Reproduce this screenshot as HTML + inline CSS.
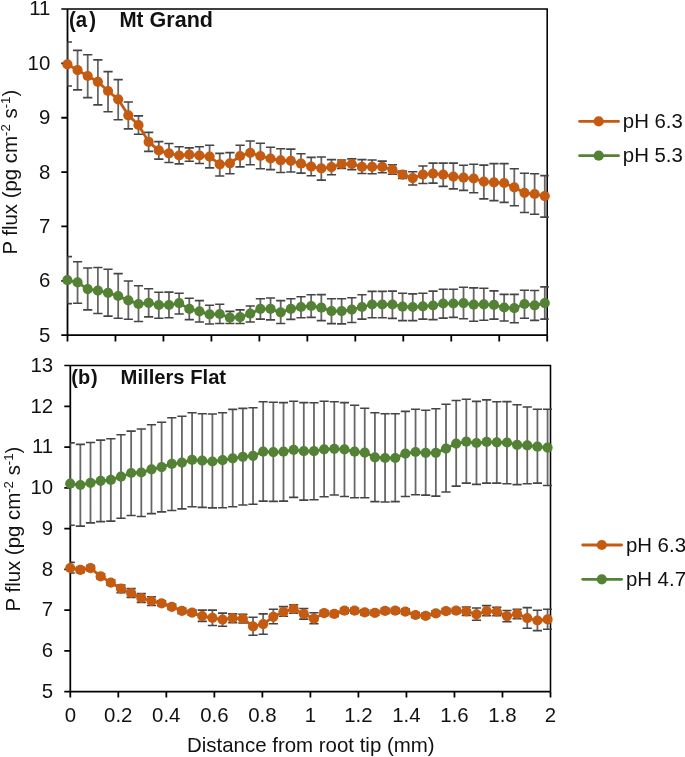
<!DOCTYPE html><html><head><meta charset="utf-8"><style>html,body{margin:0;padding:0;background:#fff;}svg{display:block;will-change:transform;}</style></head><body>
<svg width="685" height="757" viewBox="0 0 685 757">
<rect width="685" height="757" fill="#fff"/>
<defs>
<clipPath id="cA"><rect x="67.5" y="9.0" width="481.30" height="326.20"/></clipPath>
<clipPath id="cB"><rect x="70.3" y="365.55" width="481.80" height="326.00"/></clipPath>
</defs>
<path d="M61.3 9.0H547.2V335.2" stroke="#000" stroke-width="1.55" fill="none"/>
<path d="M67.5 9.0V341.4M61.3 335.2H547.2M61.3 335.20H67.5M61.3 280.83H67.5M61.3 226.47H67.5M61.3 172.10H67.5M61.3 117.73H67.5M61.3 63.37H67.5M67.50 335.2V341.4M115.47 335.2V341.4M163.44 335.2V341.4M211.41 335.2V341.4M259.38 335.2V341.4M307.35 335.2V341.4M355.32 335.2V341.4M403.29 335.2V341.4M451.26 335.2V341.4M499.23 335.2V341.4M547.20 335.2V341.4" stroke="#000" stroke-width="1.8" fill="none"/>
<g font-family='"Liberation Sans", sans-serif' font-size="20.4" fill="#111" text-anchor="end">
<text x="50.3" y="341.6">5</text>
<text x="50.3" y="287.2">6</text>
<text x="50.3" y="232.9">7</text>
<text x="50.3" y="178.5">8</text>
<text x="50.3" y="124.1">9</text>
<text x="50.3" y="69.8">10</text>
<text x="50.3" y="15.4">11</text>
</g>
<g clip-path="url(#cA)" fill="none"><path d="M67.40 42.0V86.0M77.56 50.4V89.9M87.71 54.8V97.6M97.87 59.9V104.9M108.03 71.6V111.8M118.19 79.6V119.8M128.34 102.0V128.9M138.50 115.9V134.3M148.66 132.4V151.4M158.81 141.6V159.1M168.97 143.5V162.5M179.13 146.7V163.9M189.28 147.9V161.3M199.44 146.7V163.5M209.60 145.3V167.9M219.75 153.4V176.0M229.91 152.6V173.8M240.07 145.3V166.9M250.23 141.0V164.7M260.38 143.3V168.7M270.54 147.2V169.6M280.70 148.7V172.5M290.85 149.1V172.0M301.01 153.8V173.1M311.17 157.4V175.7M321.33 157.0V180.1M331.48 159.6V174.7M341.64 160.0V168.4M351.80 158.9V169.6M361.95 159.6V173.5M372.11 160.0V173.8M382.27 161.1V172.8M392.42 164.7V174.2M402.58 171.0V178.4M412.74 171.8V185.0M422.89 166.0V183.5M433.05 163.1V183.1M443.21 163.1V186.4M453.37 163.1V188.9M463.52 165.3V190.4M473.68 164.3V192.7M483.84 165.1V198.9M493.99 163.6V200.6M504.15 163.6V202.4M514.31 168.8V205.7M524.47 173.3V212.5M534.62 173.7V214.2M544.78 175.6V217.1" stroke="#666" stroke-width="1.8"/><path d="M62.80 42.0H72.00M62.80 86.0H72.00M72.96 50.4H82.16M72.96 89.9H82.16M83.11 54.8H92.31M83.11 97.6H92.31M93.27 59.9H102.47M93.27 104.9H102.47M103.43 71.6H112.63M103.43 111.8H112.63M113.59 79.6H122.78M113.59 119.8H122.78M123.74 102.0H132.94M123.74 128.9H132.94M133.90 115.9H143.10M133.90 134.3H143.10M144.06 132.4H153.26M144.06 151.4H153.26M154.21 141.6H163.41M154.21 159.1H163.41M164.37 143.5H173.57M164.37 162.5H173.57M174.53 146.7H183.73M174.53 163.9H183.73M184.68 147.9H193.88M184.68 161.3H193.88M194.84 146.7H204.04M194.84 163.5H204.04M205.00 145.3H214.20M205.00 167.9H214.20M215.16 153.4H224.35M215.16 176.0H224.35M225.31 152.6H234.51M225.31 173.8H234.51M235.47 145.3H244.67M235.47 166.9H244.67M245.63 141.0H254.83M245.63 164.7H254.83M255.78 143.3H264.98M255.78 168.7H264.98M265.94 147.2H275.14M265.94 169.6H275.14M276.10 148.7H285.30M276.10 172.5H285.30M286.25 149.1H295.45M286.25 172.0H295.45M296.41 153.8H305.61M296.41 173.1H305.61M306.57 157.4H315.77M306.57 175.7H315.77M316.73 157.0H325.93M316.73 180.1H325.93M326.88 159.6H336.08M326.88 174.7H336.08M337.04 160.0H346.24M337.04 168.4H346.24M347.20 158.9H356.40M347.20 169.6H356.40M357.35 159.6H366.55M357.35 173.5H366.55M367.51 160.0H376.71M367.51 173.8H376.71M377.67 161.1H386.87M377.67 172.8H386.87M387.82 164.7H397.02M387.82 174.2H397.02M397.98 171.0H407.18M397.98 178.4H407.18M408.14 171.8H417.34M408.14 185.0H417.34M418.29 166.0H427.50M418.29 183.5H427.50M428.45 163.1H437.65M428.45 183.1H437.65M438.61 163.1H447.81M438.61 186.4H447.81M448.77 163.1H457.97M448.77 188.9H457.97M458.92 165.3H468.12M458.92 190.4H468.12M469.08 164.3H478.28M469.08 192.7H478.28M479.24 165.1H488.44M479.24 198.9H488.44M489.39 163.6H498.59M489.39 200.6H498.59M499.55 163.6H508.75M499.55 202.4H508.75M509.71 168.8H518.91M509.71 205.7H518.91M519.87 173.3H529.07M519.87 212.5H529.07M530.02 173.7H539.22M530.02 214.2H539.22M540.18 175.6H549.38M540.18 217.1H549.38" stroke="#444" stroke-width="1.6"/></g>
<polyline points="67.40,64.3 77.56,70.1 87.71,76.0 97.87,81.8 108.03,91.0 118.19,99.3 128.34,115.3 138.50,125.0 148.66,141.9 158.81,150.4 168.97,153.3 179.13,155.5 189.28,154.7 199.44,155.5 209.60,156.6 219.75,164.3 229.91,163.3 240.07,156.0 250.23,152.8 260.38,156.0 270.54,158.5 280.70,160.4 290.85,160.8 301.01,163.7 311.17,166.6 321.33,168.4 331.48,167.2 341.64,164.0 351.80,164.0 361.95,166.9 372.11,166.9 382.27,166.9 392.42,169.6 402.58,174.7 412.74,178.1 422.89,174.7 433.05,173.7 443.21,174.7 453.37,176.6 463.52,177.7 473.68,178.5 483.84,181.6 493.99,182.4 504.15,183.0 514.31,187.4 524.47,192.8 534.62,194.0 544.78,196.1" stroke="#C55A11" stroke-width="2.8" fill="none" stroke-linejoin="round"/>
<g fill="#C55A11"><circle cx="67.40" cy="64.3" r="5.1"/><circle cx="77.56" cy="70.1" r="5.1"/><circle cx="87.71" cy="76.0" r="5.1"/><circle cx="97.87" cy="81.8" r="5.1"/><circle cx="108.03" cy="91.0" r="5.1"/><circle cx="118.19" cy="99.3" r="5.1"/><circle cx="128.34" cy="115.3" r="5.1"/><circle cx="138.50" cy="125.0" r="5.1"/><circle cx="148.66" cy="141.9" r="5.1"/><circle cx="158.81" cy="150.4" r="5.1"/><circle cx="168.97" cy="153.3" r="5.1"/><circle cx="179.13" cy="155.5" r="5.1"/><circle cx="189.28" cy="154.7" r="5.1"/><circle cx="199.44" cy="155.5" r="5.1"/><circle cx="209.60" cy="156.6" r="5.1"/><circle cx="219.75" cy="164.3" r="5.1"/><circle cx="229.91" cy="163.3" r="5.1"/><circle cx="240.07" cy="156.0" r="5.1"/><circle cx="250.23" cy="152.8" r="5.1"/><circle cx="260.38" cy="156.0" r="5.1"/><circle cx="270.54" cy="158.5" r="5.1"/><circle cx="280.70" cy="160.4" r="5.1"/><circle cx="290.85" cy="160.8" r="5.1"/><circle cx="301.01" cy="163.7" r="5.1"/><circle cx="311.17" cy="166.6" r="5.1"/><circle cx="321.33" cy="168.4" r="5.1"/><circle cx="331.48" cy="167.2" r="5.1"/><circle cx="341.64" cy="164.0" r="5.1"/><circle cx="351.80" cy="164.0" r="5.1"/><circle cx="361.95" cy="166.9" r="5.1"/><circle cx="372.11" cy="166.9" r="5.1"/><circle cx="382.27" cy="166.9" r="5.1"/><circle cx="392.42" cy="169.6" r="5.1"/><circle cx="402.58" cy="174.7" r="5.1"/><circle cx="412.74" cy="178.1" r="5.1"/><circle cx="422.89" cy="174.7" r="5.1"/><circle cx="433.05" cy="173.7" r="5.1"/><circle cx="443.21" cy="174.7" r="5.1"/><circle cx="453.37" cy="176.6" r="5.1"/><circle cx="463.52" cy="177.7" r="5.1"/><circle cx="473.68" cy="178.5" r="5.1"/><circle cx="483.84" cy="181.6" r="5.1"/><circle cx="493.99" cy="182.4" r="5.1"/><circle cx="504.15" cy="183.0" r="5.1"/><circle cx="514.31" cy="187.4" r="5.1"/><circle cx="524.47" cy="192.8" r="5.1"/><circle cx="534.62" cy="194.0" r="5.1"/><circle cx="544.78" cy="196.1" r="5.1"/></g>
<g clip-path="url(#cA)" fill="none"><path d="M67.40 256.6V303.6M77.56 261.7V303.3M87.71 268.0V309.9M97.87 267.5V313.5M108.03 269.3V316.1M118.19 273.6V318.2M128.34 281.0V319.3M138.50 285.8V321.5M148.66 288.7V316.9M158.81 292.2V318.2M168.97 292.1V317.7M179.13 293.3V314.0M189.28 298.2V319.6M199.44 300.6V322.0M209.60 305.3V324.0M219.75 304.2V323.5M229.91 311.4V323.5M240.07 309.9V323.5M250.23 306.0V322.0M260.38 298.7V319.1M270.54 298.0V319.9M280.70 300.6V323.5M290.85 298.7V319.4M301.01 296.8V317.7M311.17 294.7V317.4M321.33 294.6V320.6M331.48 298.7V323.6M341.64 298.7V323.9M351.80 297.7V322.5M361.95 294.7V319.1M372.11 291.4V317.7M382.27 291.4V317.7M392.42 291.1V318.4M402.58 293.3V320.6M412.74 293.9V320.6M422.89 293.3V319.1M433.05 291.1V319.6M443.21 289.2V318.1M453.37 289.2V317.4M463.52 287.3V318.7M473.68 287.9V321.2M483.84 288.3V320.3M493.99 290.9V319.1M504.15 294.4V321.0M514.31 294.4V322.8M524.47 290.2V318.2M534.62 290.5V320.4M544.78 286.9V319.1" stroke="#666" stroke-width="1.8"/><path d="M62.80 256.6H72.00M62.80 303.6H72.00M72.96 261.7H82.16M72.96 303.3H82.16M83.11 268.0H92.31M83.11 309.9H92.31M93.27 267.5H102.47M93.27 313.5H102.47M103.43 269.3H112.63M103.43 316.1H112.63M113.59 273.6H122.78M113.59 318.2H122.78M123.74 281.0H132.94M123.74 319.3H132.94M133.90 285.8H143.10M133.90 321.5H143.10M144.06 288.7H153.26M144.06 316.9H153.26M154.21 292.2H163.41M154.21 318.2H163.41M164.37 292.1H173.57M164.37 317.7H173.57M174.53 293.3H183.73M174.53 314.0H183.73M184.68 298.2H193.88M184.68 319.6H193.88M194.84 300.6H204.04M194.84 322.0H204.04M205.00 305.3H214.20M205.00 324.0H214.20M215.16 304.2H224.35M215.16 323.5H224.35M225.31 311.4H234.51M225.31 323.5H234.51M235.47 309.9H244.67M235.47 323.5H244.67M245.63 306.0H254.83M245.63 322.0H254.83M255.78 298.7H264.98M255.78 319.1H264.98M265.94 298.0H275.14M265.94 319.9H275.14M276.10 300.6H285.30M276.10 323.5H285.30M286.25 298.7H295.45M286.25 319.4H295.45M296.41 296.8H305.61M296.41 317.7H305.61M306.57 294.7H315.77M306.57 317.4H315.77M316.73 294.6H325.93M316.73 320.6H325.93M326.88 298.7H336.08M326.88 323.6H336.08M337.04 298.7H346.24M337.04 323.9H346.24M347.20 297.7H356.40M347.20 322.5H356.40M357.35 294.7H366.55M357.35 319.1H366.55M367.51 291.4H376.71M367.51 317.7H376.71M377.67 291.4H386.87M377.67 317.7H386.87M387.82 291.1H397.02M387.82 318.4H397.02M397.98 293.3H407.18M397.98 320.6H407.18M408.14 293.9H417.34M408.14 320.6H417.34M418.29 293.3H427.50M418.29 319.1H427.50M428.45 291.1H437.65M428.45 319.6H437.65M438.61 289.2H447.81M438.61 318.1H447.81M448.77 289.2H457.97M448.77 317.4H457.97M458.92 287.3H468.12M458.92 318.7H468.12M469.08 287.9H478.28M469.08 321.2H478.28M479.24 288.3H488.44M479.24 320.3H488.44M489.39 290.9H498.59M489.39 319.1H498.59M499.55 294.4H508.75M499.55 321.0H508.75M509.71 294.4H518.91M509.71 322.8H518.91M519.87 290.2H529.07M519.87 318.2H529.07M530.02 290.5H539.22M530.02 320.4H539.22M540.18 286.9H549.38M540.18 319.1H549.38" stroke="#444" stroke-width="1.6"/></g>
<polyline points="67.40,280.2 77.56,282.4 87.71,289.1 97.87,290.6 108.03,292.8 118.19,296.0 128.34,300.4 138.50,304.0 148.66,302.8 158.81,305.0 168.97,305.0 179.13,303.1 189.28,308.9 199.44,311.4 209.60,314.3 219.75,314.0 229.91,317.7 240.07,317.2 250.23,313.7 260.38,308.9 270.54,308.9 280.70,312.3 290.85,308.9 301.01,307.0 311.17,306.0 321.33,307.7 331.48,311.1 341.64,311.1 351.80,309.6 361.95,307.0 372.11,304.5 382.27,304.5 392.42,304.5 402.58,306.7 412.74,307.0 422.89,306.4 433.05,305.5 443.21,303.5 453.37,303.5 463.52,303.1 473.68,304.7 483.84,304.4 493.99,304.9 504.15,307.5 514.31,308.2 524.47,304.0 534.62,305.3 544.78,303.1" stroke="#548235" stroke-width="2.8" fill="none" stroke-linejoin="round"/>
<g fill="#548235"><circle cx="67.40" cy="280.2" r="5.1"/><circle cx="77.56" cy="282.4" r="5.1"/><circle cx="87.71" cy="289.1" r="5.1"/><circle cx="97.87" cy="290.6" r="5.1"/><circle cx="108.03" cy="292.8" r="5.1"/><circle cx="118.19" cy="296.0" r="5.1"/><circle cx="128.34" cy="300.4" r="5.1"/><circle cx="138.50" cy="304.0" r="5.1"/><circle cx="148.66" cy="302.8" r="5.1"/><circle cx="158.81" cy="305.0" r="5.1"/><circle cx="168.97" cy="305.0" r="5.1"/><circle cx="179.13" cy="303.1" r="5.1"/><circle cx="189.28" cy="308.9" r="5.1"/><circle cx="199.44" cy="311.4" r="5.1"/><circle cx="209.60" cy="314.3" r="5.1"/><circle cx="219.75" cy="314.0" r="5.1"/><circle cx="229.91" cy="317.7" r="5.1"/><circle cx="240.07" cy="317.2" r="5.1"/><circle cx="250.23" cy="313.7" r="5.1"/><circle cx="260.38" cy="308.9" r="5.1"/><circle cx="270.54" cy="308.9" r="5.1"/><circle cx="280.70" cy="312.3" r="5.1"/><circle cx="290.85" cy="308.9" r="5.1"/><circle cx="301.01" cy="307.0" r="5.1"/><circle cx="311.17" cy="306.0" r="5.1"/><circle cx="321.33" cy="307.7" r="5.1"/><circle cx="331.48" cy="311.1" r="5.1"/><circle cx="341.64" cy="311.1" r="5.1"/><circle cx="351.80" cy="309.6" r="5.1"/><circle cx="361.95" cy="307.0" r="5.1"/><circle cx="372.11" cy="304.5" r="5.1"/><circle cx="382.27" cy="304.5" r="5.1"/><circle cx="392.42" cy="304.5" r="5.1"/><circle cx="402.58" cy="306.7" r="5.1"/><circle cx="412.74" cy="307.0" r="5.1"/><circle cx="422.89" cy="306.4" r="5.1"/><circle cx="433.05" cy="305.5" r="5.1"/><circle cx="443.21" cy="303.5" r="5.1"/><circle cx="453.37" cy="303.5" r="5.1"/><circle cx="463.52" cy="303.1" r="5.1"/><circle cx="473.68" cy="304.7" r="5.1"/><circle cx="483.84" cy="304.4" r="5.1"/><circle cx="493.99" cy="304.9" r="5.1"/><circle cx="504.15" cy="307.5" r="5.1"/><circle cx="514.31" cy="308.2" r="5.1"/><circle cx="524.47" cy="304.0" r="5.1"/><circle cx="534.62" cy="305.3" r="5.1"/><circle cx="544.78" cy="303.1" r="5.1"/></g>
<path d="M64.3 365.55H550.5V691.55" stroke="#000" stroke-width="1.55" fill="none"/>
<path d="M70.3 365.55V697.55M64.3 691.55H550.5M64.3 691.55H70.3M64.3 650.80H70.3M64.3 610.05H70.3M64.3 569.30H70.3M64.3 528.55H70.3M64.3 487.80H70.3M64.3 447.05H70.3M64.3 406.30H70.3M70.30 691.55V697.55M118.32 691.55V697.55M166.34 691.55V697.55M214.36 691.55V697.55M262.38 691.55V697.55M310.40 691.55V697.55M358.42 691.55V697.55M406.44 691.55V697.55M454.46 691.55V697.55M502.48 691.55V697.55M550.50 691.55V697.55" stroke="#000" stroke-width="1.75" fill="none"/>
<g font-family='"Liberation Sans", sans-serif' font-size="20.4" fill="#111" text-anchor="end">
<text x="53.1" y="697.9">5</text>
<text x="53.1" y="657.2">6</text>
<text x="53.1" y="616.4">7</text>
<text x="53.1" y="575.7">8</text>
<text x="53.1" y="534.9">9</text>
<text x="53.1" y="494.2">10</text>
<text x="53.1" y="453.4">11</text>
<text x="53.1" y="412.7">12</text>
<text x="53.1" y="371.9">13</text>
</g>
<g font-family='"Liberation Sans", sans-serif' font-size="20.4" fill="#111" text-anchor="middle">
<text x="70.3" y="721.9">0</text>
<text x="118.3" y="721.9">0.2</text>
<text x="166.3" y="721.9">0.4</text>
<text x="214.4" y="721.9">0.6</text>
<text x="262.4" y="721.9">0.8</text>
<text x="310.4" y="721.9">1</text>
<text x="358.4" y="721.9">1.2</text>
<text x="406.4" y="721.9">1.4</text>
<text x="454.5" y="721.9">1.6</text>
<text x="502.5" y="721.9">1.8</text>
<text x="550.5" y="721.9">2</text>
</g>
<g clip-path="url(#cB)" fill="none"><path d="M70.20 442.9V525.3M80.36 444.4V526.1M90.51 442.5V522.9M100.67 440.1V521.6M110.83 438.8V521.1M120.98 434.8V518.3M131.14 431.1V515.5M141.30 429.0V516.5M151.46 424.7V513.6M161.61 422.2V511.9M171.77 417.7V510.5M181.93 416.2V508.9M192.08 412.7V506.8M202.24 413.7V507.4M212.40 414.0V507.9M222.56 412.7V507.7M232.71 409.4V506.8M242.87 408.4V505.0M253.03 407.7V504.2M263.18 401.8V501.1M273.34 402.2V501.4M283.50 402.6V501.1M293.65 401.3V497.4M303.81 402.6V500.1M313.97 402.7V499.8M324.12 401.3V496.8M334.28 401.8V495.0M344.44 402.6V496.5M354.60 405.3V497.7M364.75 408.3V497.7M374.91 412.7V501.6M385.07 413.8V502.0M395.22 413.8V501.6M405.38 411.4V496.5M415.54 409.3V494.7M425.69 410.3V495.1M435.85 408.8V496.1M446.01 404.2V492.0M456.17 400.5V486.1M466.32 399.2V483.1M476.48 401.4V484.4M486.64 399.9V483.1M496.79 401.8V483.1M506.95 401.6V483.7M517.11 404.8V484.6M527.26 407.0V483.7M537.42 409.2V483.1M547.58 409.2V485.5" stroke="#666" stroke-width="1.8"/><path d="M65.60 442.9H74.80M65.60 525.3H74.80M75.76 444.4H84.96M75.76 526.1H84.96M85.91 442.5H95.11M85.91 522.9H95.11M96.07 440.1H105.27M96.07 521.6H105.27M106.23 438.8H115.43M106.23 521.1H115.43M116.39 434.8H125.58M116.39 518.3H125.58M126.54 431.1H135.74M126.54 515.5H135.74M136.70 429.0H145.90M136.70 516.5H145.90M146.86 424.7H156.06M146.86 513.6H156.06M157.01 422.2H166.21M157.01 511.9H166.21M167.17 417.7H176.37M167.17 510.5H176.37M177.33 416.2H186.53M177.33 508.9H186.53M187.48 412.7H196.68M187.48 506.8H196.68M197.64 413.7H206.84M197.64 507.4H206.84M207.80 414.0H217.00M207.80 507.9H217.00M217.96 412.7H227.16M217.96 507.7H227.16M228.11 409.4H237.31M228.11 506.8H237.31M238.27 408.4H247.47M238.27 505.0H247.47M248.43 407.7H257.63M248.43 504.2H257.63M258.58 401.8H267.78M258.58 501.1H267.78M268.74 402.2H277.94M268.74 501.4H277.94M278.90 402.6H288.10M278.90 501.1H288.10M289.05 401.3H298.25M289.05 497.4H298.25M299.21 402.6H308.41M299.21 500.1H308.41M309.37 402.7H318.57M309.37 499.8H318.57M319.52 401.3H328.73M319.52 496.8H328.73M329.68 401.8H338.88M329.68 495.0H338.88M339.84 402.6H349.04M339.84 496.5H349.04M350.00 405.3H359.20M350.00 497.7H359.20M360.15 408.3H369.35M360.15 497.7H369.35M370.31 412.7H379.51M370.31 501.6H379.51M380.47 413.8H389.67M380.47 502.0H389.67M390.62 413.8H399.82M390.62 501.6H399.82M400.78 411.4H409.98M400.78 496.5H409.98M410.94 409.3H420.14M410.94 494.7H420.14M421.09 410.3H430.30M421.09 495.1H430.30M431.25 408.8H440.45M431.25 496.1H440.45M441.41 404.2H450.61M441.41 492.0H450.61M451.57 400.5H460.77M451.57 486.1H460.77M461.72 399.2H470.92M461.72 483.1H470.92M471.88 401.4H481.08M471.88 484.4H481.08M482.04 399.9H491.24M482.04 483.1H491.24M492.19 401.8H501.39M492.19 483.1H501.39M502.35 401.6H511.55M502.35 483.7H511.55M512.51 404.8H521.71M512.51 484.6H521.71M522.66 407.0H531.87M522.66 483.7H531.87M532.82 409.2H542.02M532.82 483.1H542.02M542.98 409.2H552.18M542.98 485.5H552.18" stroke="#444" stroke-width="1.6"/></g>
<polyline points="70.20,483.7 80.36,485.0 90.51,482.8 100.67,480.8 110.83,479.9 120.98,476.7 131.14,473.0 141.30,472.5 151.46,469.4 161.61,467.1 171.77,463.9 181.93,462.6 192.08,459.9 202.24,460.6 212.40,461.5 222.56,460.2 232.71,458.4 242.87,456.8 253.03,455.8 263.18,451.7 273.34,452.1 283.50,451.7 293.65,449.9 303.81,451.2 313.97,451.2 324.12,449.3 334.28,448.8 344.44,449.3 354.60,451.7 364.75,452.6 374.91,457.3 385.07,458.0 395.22,458.0 405.38,453.6 415.54,452.0 425.69,452.8 435.85,452.8 446.01,448.6 456.17,443.6 466.32,441.7 476.48,443.0 486.64,441.9 496.79,442.3 506.95,442.5 517.11,444.9 527.26,445.4 537.42,446.7 547.58,447.6" stroke="#548235" stroke-width="2.8" fill="none" stroke-linejoin="round"/>
<g fill="#548235"><circle cx="70.20" cy="483.7" r="5.1"/><circle cx="80.36" cy="485.0" r="5.1"/><circle cx="90.51" cy="482.8" r="5.1"/><circle cx="100.67" cy="480.8" r="5.1"/><circle cx="110.83" cy="479.9" r="5.1"/><circle cx="120.98" cy="476.7" r="5.1"/><circle cx="131.14" cy="473.0" r="5.1"/><circle cx="141.30" cy="472.5" r="5.1"/><circle cx="151.46" cy="469.4" r="5.1"/><circle cx="161.61" cy="467.1" r="5.1"/><circle cx="171.77" cy="463.9" r="5.1"/><circle cx="181.93" cy="462.6" r="5.1"/><circle cx="192.08" cy="459.9" r="5.1"/><circle cx="202.24" cy="460.6" r="5.1"/><circle cx="212.40" cy="461.5" r="5.1"/><circle cx="222.56" cy="460.2" r="5.1"/><circle cx="232.71" cy="458.4" r="5.1"/><circle cx="242.87" cy="456.8" r="5.1"/><circle cx="253.03" cy="455.8" r="5.1"/><circle cx="263.18" cy="451.7" r="5.1"/><circle cx="273.34" cy="452.1" r="5.1"/><circle cx="283.50" cy="451.7" r="5.1"/><circle cx="293.65" cy="449.9" r="5.1"/><circle cx="303.81" cy="451.2" r="5.1"/><circle cx="313.97" cy="451.2" r="5.1"/><circle cx="324.12" cy="449.3" r="5.1"/><circle cx="334.28" cy="448.8" r="5.1"/><circle cx="344.44" cy="449.3" r="5.1"/><circle cx="354.60" cy="451.7" r="5.1"/><circle cx="364.75" cy="452.6" r="5.1"/><circle cx="374.91" cy="457.3" r="5.1"/><circle cx="385.07" cy="458.0" r="5.1"/><circle cx="395.22" cy="458.0" r="5.1"/><circle cx="405.38" cy="453.6" r="5.1"/><circle cx="415.54" cy="452.0" r="5.1"/><circle cx="425.69" cy="452.8" r="5.1"/><circle cx="435.85" cy="452.8" r="5.1"/><circle cx="446.01" cy="448.6" r="5.1"/><circle cx="456.17" cy="443.6" r="5.1"/><circle cx="466.32" cy="441.7" r="5.1"/><circle cx="476.48" cy="443.0" r="5.1"/><circle cx="486.64" cy="441.9" r="5.1"/><circle cx="496.79" cy="442.3" r="5.1"/><circle cx="506.95" cy="442.5" r="5.1"/><circle cx="517.11" cy="444.9" r="5.1"/><circle cx="527.26" cy="445.4" r="5.1"/><circle cx="537.42" cy="446.7" r="5.1"/><circle cx="547.58" cy="447.6" r="5.1"/></g>
<g clip-path="url(#cB)" fill="none"><path d="M70.20 562.4V573.0M80.36 567.4V572.4M90.51 565.6V570.6M100.67 573.8V578.8M110.83 580.1V585.1M120.98 585.0V592.7M131.14 588.6V597.4M141.30 593.6V602.4M151.46 596.7V605.5M161.61 600.8V605.8M171.77 604.3V609.3M181.93 608.4V613.4M192.08 610.1V615.1M202.24 610.1V621.4M212.40 610.1V625.5M222.56 613.1V626.2M232.71 613.9V622.6M242.87 614.3V623.0M253.03 617.2V635.2M263.18 613.9V634.3M273.34 609.2V623.8M283.50 606.6V616.2M293.65 604.8V613.3M303.81 608.5V619.1M313.97 612.8V623.8M324.12 610.6V615.6M334.28 611.4V616.4M344.44 608.2V613.2M354.60 608.2V613.2M364.75 609.9V614.9M374.91 610.3V615.3M385.07 608.4V613.4M395.22 608.2V613.2M405.38 609.1V614.1M415.54 612.5V617.5M425.69 613.3V618.3M435.85 610.8V615.8M446.01 608.6V613.6M456.17 608.2V613.2M466.32 607.0V615.5M476.48 608.0V620.3M486.64 605.6V615.7M496.79 607.2V615.7M506.95 610.5V621.8M517.11 609.2V618.8M527.26 607.6V628.2M537.42 610.2V630.6M547.58 609.2V629.3" stroke="#666" stroke-width="1.8"/><path d="M65.60 562.4H74.80M65.60 573.0H74.80M75.76 567.4H84.96M75.76 572.4H84.96M85.91 565.6H95.11M85.91 570.6H95.11M96.07 573.8H105.27M96.07 578.8H105.27M106.23 580.1H115.43M106.23 585.1H115.43M116.39 585.0H125.58M116.39 592.7H125.58M126.54 588.6H135.74M126.54 597.4H135.74M136.70 593.6H145.90M136.70 602.4H145.90M146.86 596.7H156.06M146.86 605.5H156.06M157.01 600.8H166.21M157.01 605.8H166.21M167.17 604.3H176.37M167.17 609.3H176.37M177.33 608.4H186.53M177.33 613.4H186.53M187.48 610.1H196.68M187.48 615.1H196.68M197.64 610.1H206.84M197.64 621.4H206.84M207.80 610.1H217.00M207.80 625.5H217.00M217.96 613.1H227.16M217.96 626.2H227.16M228.11 613.9H237.31M228.11 622.6H237.31M238.27 614.3H247.47M238.27 623.0H247.47M248.43 617.2H257.63M248.43 635.2H257.63M258.58 613.9H267.78M258.58 634.3H267.78M268.74 609.2H277.94M268.74 623.8H277.94M278.90 606.6H288.10M278.90 616.2H288.10M289.05 604.8H298.25M289.05 613.3H298.25M299.21 608.5H308.41M299.21 619.1H308.41M309.37 612.8H318.57M309.37 623.8H318.57M319.52 610.6H328.73M319.52 615.6H328.73M329.68 611.4H338.88M329.68 616.4H338.88M339.84 608.2H349.04M339.84 613.2H349.04M350.00 608.2H359.20M350.00 613.2H359.20M360.15 609.9H369.35M360.15 614.9H369.35M370.31 610.3H379.51M370.31 615.3H379.51M380.47 608.4H389.67M380.47 613.4H389.67M390.62 608.2H399.82M390.62 613.2H399.82M400.78 609.1H409.98M400.78 614.1H409.98M410.94 612.5H420.14M410.94 617.5H420.14M421.09 613.3H430.30M421.09 618.3H430.30M431.25 610.8H440.45M431.25 615.8H440.45M441.41 608.6H450.61M441.41 613.6H450.61M451.57 608.2H460.77M451.57 613.2H460.77M461.72 607.0H470.92M461.72 615.5H470.92M471.88 608.0H481.08M471.88 620.3H481.08M482.04 605.6H491.24M482.04 615.7H491.24M492.19 607.2H501.39M492.19 615.7H501.39M502.35 610.5H511.55M502.35 621.8H511.55M512.51 609.2H521.71M512.51 618.8H521.71M522.66 607.6H531.87M522.66 628.2H531.87M532.82 610.2H542.02M532.82 630.6H542.02M542.98 609.2H552.18M542.98 629.3H552.18" stroke="#444" stroke-width="1.6"/></g>
<polyline points="70.20,568.0 80.36,569.9 90.51,568.1 100.67,576.3 110.83,582.6 120.98,588.7 131.14,593.0 141.30,598.0 151.46,601.0 161.61,603.3 171.77,606.8 181.93,610.9 192.08,612.6 202.24,616.0 212.40,617.9 222.56,619.6 232.71,618.2 242.87,618.7 253.03,626.4 263.18,624.1 273.34,616.8 283.50,611.8 293.65,608.9 303.81,613.9 313.97,618.7 324.12,613.1 334.28,613.9 344.44,610.7 354.60,610.7 364.75,612.4 374.91,612.8 385.07,610.9 395.22,610.7 405.38,611.6 415.54,615.0 425.69,615.8 435.85,613.3 446.01,611.1 456.17,610.7 466.32,611.4 476.48,614.4 486.64,611.1 496.79,611.5 506.95,616.1 517.11,613.9 527.26,618.1 537.42,620.5 547.58,619.4" stroke="#C55A11" stroke-width="2.8" fill="none" stroke-linejoin="round"/>
<g fill="#C55A11"><circle cx="70.20" cy="568.0" r="5.1"/><circle cx="80.36" cy="569.9" r="5.1"/><circle cx="90.51" cy="568.1" r="5.1"/><circle cx="100.67" cy="576.3" r="5.1"/><circle cx="110.83" cy="582.6" r="5.1"/><circle cx="120.98" cy="588.7" r="5.1"/><circle cx="131.14" cy="593.0" r="5.1"/><circle cx="141.30" cy="598.0" r="5.1"/><circle cx="151.46" cy="601.0" r="5.1"/><circle cx="161.61" cy="603.3" r="5.1"/><circle cx="171.77" cy="606.8" r="5.1"/><circle cx="181.93" cy="610.9" r="5.1"/><circle cx="192.08" cy="612.6" r="5.1"/><circle cx="202.24" cy="616.0" r="5.1"/><circle cx="212.40" cy="617.9" r="5.1"/><circle cx="222.56" cy="619.6" r="5.1"/><circle cx="232.71" cy="618.2" r="5.1"/><circle cx="242.87" cy="618.7" r="5.1"/><circle cx="253.03" cy="626.4" r="5.1"/><circle cx="263.18" cy="624.1" r="5.1"/><circle cx="273.34" cy="616.8" r="5.1"/><circle cx="283.50" cy="611.8" r="5.1"/><circle cx="293.65" cy="608.9" r="5.1"/><circle cx="303.81" cy="613.9" r="5.1"/><circle cx="313.97" cy="618.7" r="5.1"/><circle cx="324.12" cy="613.1" r="5.1"/><circle cx="334.28" cy="613.9" r="5.1"/><circle cx="344.44" cy="610.7" r="5.1"/><circle cx="354.60" cy="610.7" r="5.1"/><circle cx="364.75" cy="612.4" r="5.1"/><circle cx="374.91" cy="612.8" r="5.1"/><circle cx="385.07" cy="610.9" r="5.1"/><circle cx="395.22" cy="610.7" r="5.1"/><circle cx="405.38" cy="611.6" r="5.1"/><circle cx="415.54" cy="615.0" r="5.1"/><circle cx="425.69" cy="615.8" r="5.1"/><circle cx="435.85" cy="613.3" r="5.1"/><circle cx="446.01" cy="611.1" r="5.1"/><circle cx="456.17" cy="610.7" r="5.1"/><circle cx="466.32" cy="611.4" r="5.1"/><circle cx="476.48" cy="614.4" r="5.1"/><circle cx="486.64" cy="611.1" r="5.1"/><circle cx="496.79" cy="611.5" r="5.1"/><circle cx="506.95" cy="616.1" r="5.1"/><circle cx="517.11" cy="613.9" r="5.1"/><circle cx="527.26" cy="618.1" r="5.1"/><circle cx="537.42" cy="620.5" r="5.1"/><circle cx="547.58" cy="619.4" r="5.1"/></g>
<g font-family='"Liberation Sans", sans-serif' font-size="20" font-weight="bold" fill="#111">
<text transform="translate(69 26.8) scale(1.02 1.08)">(a<tspan dx="2.0">)</tspan></text><text transform="translate(119.4 26.8) scale(1.03 1.08)">Mt</text>
<text transform="translate(149.6 26.8) scale(1.075 1.08)">Grand</text>
<text x="71.3" y="383.9">(b<tspan dx="0.9">)</tspan></text>
<text transform="translate(120.6 383.9) scale(1.01 1)">Millers Flat</text>
</g>
<text transform="translate(16.8,172.2) rotate(-90) scale(1.02 1)" font-family='"Liberation Sans", sans-serif' font-size="20" text-anchor="middle" fill="#111">P flux (pg cm<tspan font-size="13" dy="-7">-2</tspan><tspan dy="7"> s</tspan><tspan font-size="13" dy="-7">-1</tspan><tspan dy="7">)</tspan></text>
<text transform="translate(19.6,529.0) rotate(-90) scale(1.02 1)" font-family='"Liberation Sans", sans-serif' font-size="20" text-anchor="middle" fill="#111">P flux (pg cm<tspan font-size="13" dy="-7">-2</tspan><tspan dy="7"> s</tspan><tspan font-size="13" dy="-7">-1</tspan><tspan dy="7">)</tspan></text>
<text transform="translate(310.8 751.9) scale(1.023 1)" font-family='"Liberation Sans", sans-serif' font-size="20" text-anchor="middle" fill="#111">Distance from root tip (mm)</text>
<path d="M579.6 121.4H618.5" stroke="#C55A11" stroke-width="2.8" stroke-linecap="round"/><circle cx="598.7" cy="121.4" r="5.1" fill="#C55A11"/>
<text transform="translate(622.8 127.9) scale(1.02 1)" font-family='"Liberation Sans", sans-serif' font-size="20" fill="#111">pH 6.3</text>
<path d="M579.6 155.7H618.5" stroke="#548235" stroke-width="2.8" stroke-linecap="round"/><circle cx="598.7" cy="155.7" r="5.1" fill="#548235"/>
<text transform="translate(622.8 162.2) scale(1.02 1)" font-family='"Liberation Sans", sans-serif' font-size="20" fill="#111">pH 5.3</text>
<path d="M582.7 545.0H621.6" stroke="#C55A11" stroke-width="2.8" stroke-linecap="round"/><circle cx="601.8" cy="545.0" r="5.1" fill="#C55A11"/>
<text transform="translate(625.9 551.5) scale(1.02 1)" font-family='"Liberation Sans", sans-serif' font-size="20" fill="#111">pH 6.3</text>
<path d="M582.7 579.3H621.6" stroke="#548235" stroke-width="2.8" stroke-linecap="round"/><circle cx="601.8" cy="579.3" r="5.1" fill="#548235"/>
<text transform="translate(625.9 585.8) scale(1.02 1)" font-family='"Liberation Sans", sans-serif' font-size="20" fill="#111">pH 4.7</text>
</svg></body></html>
